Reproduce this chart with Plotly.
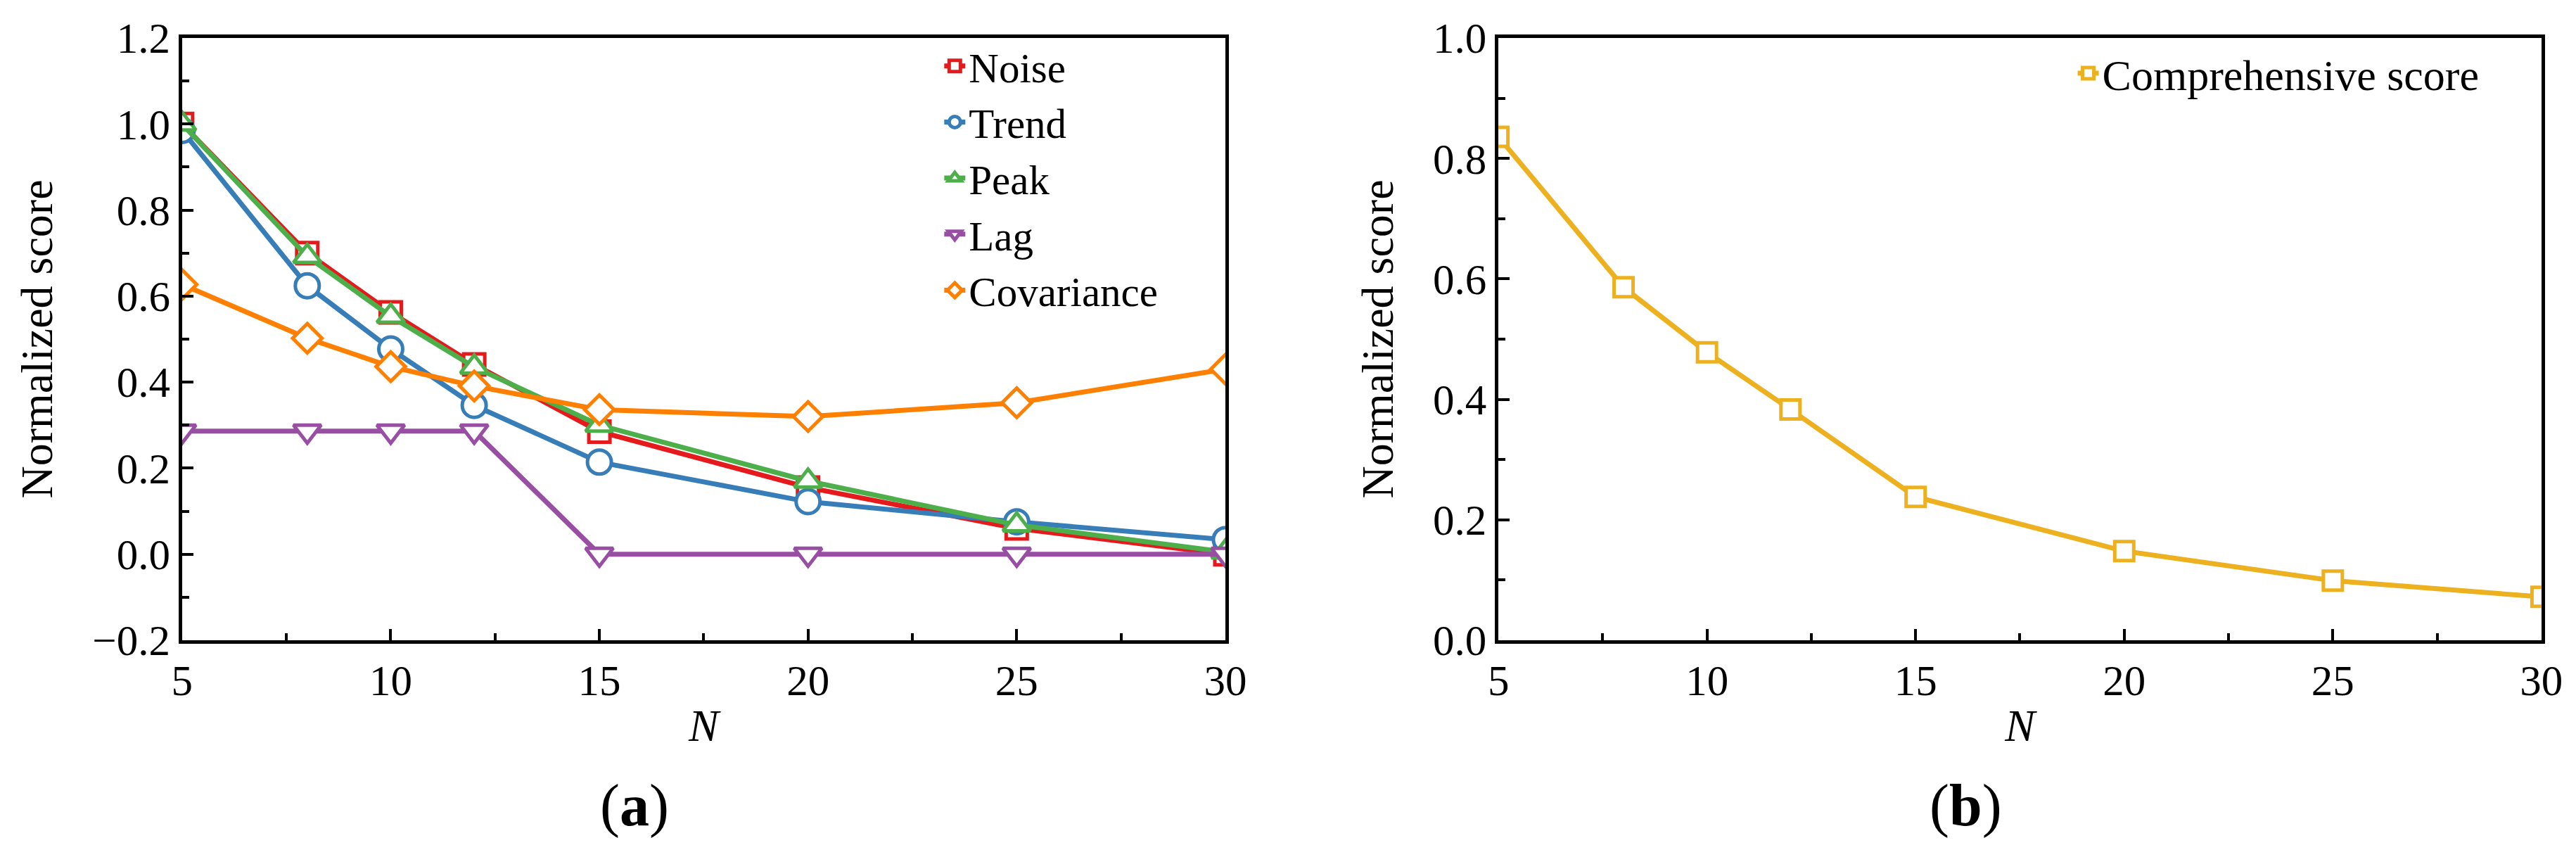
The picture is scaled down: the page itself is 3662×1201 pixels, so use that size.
import plotly.graph_objects as go

# Dados
n_vals = [5, 8, 10, 12, 15, 20, 25, 30]

noise = [1.0, 0.70, 0.562, 0.441, 0.285, 0.155, 0.060, 0.0]
trend = [0.985, 0.624, 0.477, 0.346, 0.214, 0.122, 0.075, 0.034]
peak = [1.0, 0.692, 0.553, 0.435, 0.300, 0.170, 0.068, 0.005]
lag = [0.286, 0.286, 0.286, 0.286, 0.0, 0.0, 0.0, 0.0]
covariance = [0.627, 0.502, 0.436, 0.391, 0.336, 0.320, 0.352, 0.430]

comprehensive = [0.836, 0.586, 0.478, 0.383, 0.238, 0.148, 0.099, 0.072]

series_a = [
    ("Noise", noise, "#E41A1C", "square", 30),
    ("Trend", trend, "#377EB8", "circle", 34),
    ("Peak", peak, "#4DAF4A", "triangle-up", 34),
    ("Lag", lag, "#984EA3", "triangle-down", 34),
    ("Covariance", covariance, "#FF7F00", "diamond", 32),
]

FONT = "Liberation Serif, Times New Roman, serif"

fig = go.Figure()

# painel (a)
for name, vals, color, symbol, size in series_a:
    fig.add_trace(go.Scatter(
        x=n_vals, y=vals, name=name, mode="lines+markers",
        line=dict(color=color, width=7),
        marker=dict(symbol=symbol, size=size, color="white",
                    line=dict(color=color, width=5)),
        xaxis="x", yaxis="y", legend="legend",
    ))

# painel (b)
fig.add_trace(go.Scatter(
    x=n_vals, y=comprehensive, name="Comprehensive score", mode="lines+markers",
    line=dict(color="#EDB120", width=7),
    marker=dict(symbol="square", size=27, color="white",
                line=dict(color="#EDB120", width=5)),
    xaxis="x2", yaxis="y2", legend="legend2",
))

axis_style = dict(
    showline=True, linecolor="black", linewidth=4.5, mirror=True,
    showgrid=False, zeroline=False, automargin=False,
    ticks="inside", ticklen=16, tickwidth=4, tickcolor="black",
    tickfont=dict(family=FONT, size=61, color="black"),
)

xstyle = dict(axis_style, range=[5, 30], tick0=5, dtick=5,
              minor=dict(dtick=2.5, ticks="inside", ticklen=10, tickwidth=4, tickcolor="black"),
              title=dict(text="<i>N</i>", font=dict(family=FONT, size=64, color="black"), standoff=10))

ytitle = dict(text="Normalized score", font=dict(family=FONT, size=64, color="black"), standoff=37)

fig.update_layout(
    template="none",
    width=3662, height=1201,
    margin=dict(l=0, r=0, t=0, b=0, autoexpand=False),
    paper_bgcolor="white", plot_bgcolor="white",
    font=dict(family=FONT, color="black"),
    xaxis=dict(xstyle, domain=[0.0685, 0.4735], anchor="y"),
    yaxis=dict(axis_style, domain=[0.249, 0.9617], anchor="x", range=[-0.2, 1.2],
               tick0=0, dtick=0.2, tickformat=".1f",
               minor=dict(dtick=0.1, ticks="inside", ticklen=10, tickwidth=4, tickcolor="black"),
               title=ytitle),
    xaxis2=dict(xstyle, domain=[0.5795, 0.9844], anchor="y2"),
    yaxis2=dict(axis_style, domain=[0.249, 0.9617], anchor="x2", range=[0, 1],
                tick0=0, dtick=0.2, tickformat=".1f",
                minor=dict(dtick=0.1, ticks="inside", ticklen=10, tickwidth=4, tickcolor="black"),
                title=ytitle),
    legend=dict(x=0.363, y=0.966, xanchor="left", yanchor="top",
                bgcolor="rgba(0,0,0,0)", font=dict(family=FONT, size=59, color="black"),
                tracegroupgap=0),
    legend2=dict(x=0.803, y=0.959, xanchor="left", yanchor="top",
                 bgcolor="rgba(0,0,0,0)", font=dict(family=FONT, size=62, color="black")),
    annotations=[
        dict(text="(<b>a</b>)", x=0.2441, y=0.053, xref="paper", yref="paper",
             xanchor="center", yanchor="middle", showarrow=False,
             font=dict(family=FONT, size=84, color="black")),
        dict(text="(<b>b</b>)", x=0.761, y=0.053, xref="paper", yref="paper",
             xanchor="center", yanchor="middle", showarrow=False,
             font=dict(family=FONT, size=84, color="black")),
    ],
)

fig.write_html("out.html")
